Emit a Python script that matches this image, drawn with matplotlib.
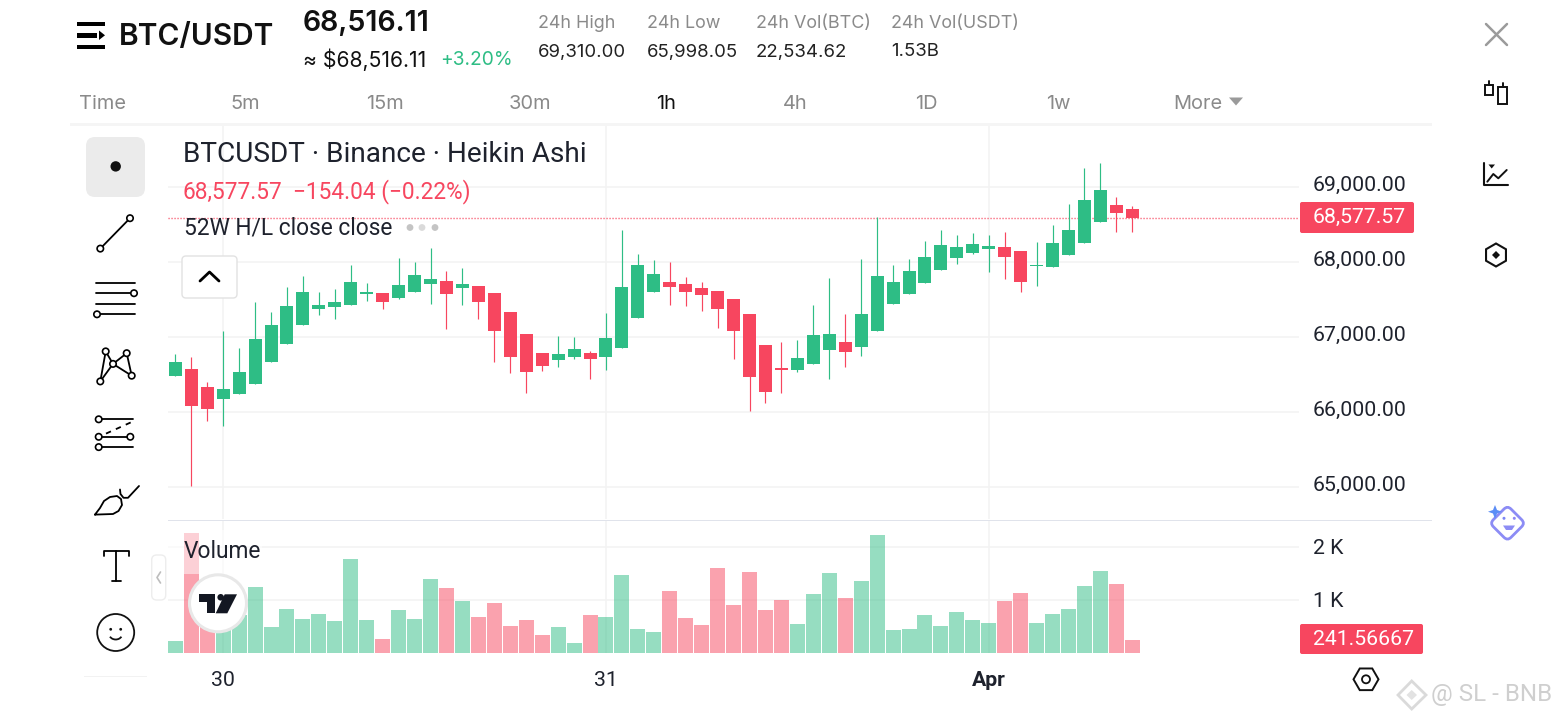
import matplotlib
matplotlib.use('Agg')
import numpy as np
from matplotlib import pyplot as plt
from matplotlib.patches import Circle, FancyBboxPatch, Polygon, Rectangle, RegularPolygon, Arc
from matplotlib.transforms import Affine2D, ScaledTranslation

# candle values
opens = [66476, 66569, 66329, 66169, 66236, 66369, 66663, 66903, 67156, 67369,
         67396, 67423, 67569, 67583, 67516, 67596, 67703, 67742, 67649, 67676,
         67583, 67329, 67036, 66783, 66689, 66729, 66783, 66729, 66849, 67249,
         67596, 67729, 67703, 67649, 67609, 67503, 67303, 66889, 66583, 66556,
         66636, 66823, 66929, 66863, 67076, 67436, 67569, 67716, 67889, 68049,
         68116, 68169, 68196, 68142, 67942, 67929, 68089, 68249, 68529, 68756, 68702]
closes = [66663, 66076, 66036, 66303, 66529, 66969, 67156, 67409, 67596, 67423,
          67463, 67729, 67596, 67463, 67689, 67822, 67769, 67569, 67703, 67463,
          67076, 66729, 66529, 66609, 66769, 66836, 66703, 66983, 67663, 67956,
          67836, 67663, 67596, 67556, 67369, 67076, 66463, 66263, 66556, 66716,
          67023, 67036, 66796, 67303, 67809, 67729, 67876, 68062, 68222, 68196,
          68236, 68209, 68062, 67729, 67956, 68249, 68422, 68822, 68956, 68649, 68577.57]
highs = [66769, 66729, 66396, 67076, 66849, 67463, 67329, 67663, 67809, 67596,
         67636, 67956, 67716, 67583, 68049, 67996, 68182, 67876, 67916, 67676,
         67583, 67329, 67036, 66783, 67009, 66996, 66809, 67316, 68422, 68102,
         68022, 67996, 67796, 67729, 67609, 67503, 67303, 66889, 66929, 66956,
         67423, 67783, 67303, 68036, 68591, 67956, 68036, 68276, 68422, 68356,
         68382, 68356, 68396, 68142, 68262, 68489, 68769, 69249, 69316, 68862, 68742]
lows = [66476, 65014, 65876, 65809, 66236, 66369, 66663, 66903, 67156, 67289,
        67236, 67423, 67476, 67369, 67503, 67596, 67436, 67103, 67423, 67236,
        66663, 66516, 66249, 66543, 66596, 66703, 66436, 66556, 66849, 67249,
        67596, 67423, 67409, 67343, 67116, 66703, 66009, 66116, 66249, 66529,
        66636, 66436, 66596, 66743, 67076, 67436, 67569, 67716, 67889, 67969,
        68102, 67862, 67769, 67596, 67676, 67929, 68089, 68249, 68529, 68396, 68396]
volumes = [228, 2262, 900, 660, 710, 1255, 494, 836, 646, 741,
           608, 1768, 627, 266, 817, 646, 1407, 1236, 989, 684,
           951, 513, 627, 342, 494, 190, 722, 684, 1483, 456,
           399, 1179, 665, 532, 1616, 913, 1540, 817, 1008, 551,
           1122, 1521, 1046, 1369, 2224, 437, 456, 722, 513, 779,
           627, 570, 989, 1141, 570, 741, 836, 1274, 1559, 1312, 241.56667]

price_ticks = [65000, 66000, 67000, 68000, 69000]
volume_ticks = [1000, 2000]
volume_tick_labels = ['1 K', '2 K']
date_ticks = [3, 27, 51]
date_labels = ['30', '31', 'Apr']
last_price = 68577.57

intervals = ['Time', '5m', '15m', '30m', '1h', '4h', '1D', '1w', 'More']
interval_x = [102, 245, 385, 530, 666, 795, 926, 1058, 1198]
stat_names = ['24h High', '24h Low', '24h Vol(BTC)', '24h Vol(USDT)']
stat_values = ['69,310.00', '65,998.05', '22,534.62', '1.53B']
stat_x = [538, 647, 756, 891]

GREEN = '#2EBD85'
RED = '#F7465F'
GRID = '#F3F3F3'
INK = '#1E222D'
GRAY = '#8A8A8A'
CHART_FONT = ['Roboto', 'DejaVu Sans']
UI_FONT = ['Inter', 'DejaVu Sans']

W, H = 1560, 720
fig = plt.figure(figsize=(W / 100, H / 100), dpi=100, facecolor='white')

def axes_px(left, top, right, bottom, **kw):
    return fig.add_axes([left / W, 1 - bottom / H, (right - left) / W, (bottom - top) / H], **kw)

x = np.arange(len(opens))
colors = [GREEN if c >= o else RED for o, c in zip(opens, closes)]
body_low = np.minimum(opens, closes)
body_h = np.abs(np.array(closes) - np.array(opens))

# price pane
ax = axes_px(168, 126, 1299, 519)
ax.set_facecolor('none')
ax.vlines(x, lows, highs, colors=colors, lw=0.85, zorder=3)
ax.bar(x, body_h, bottom=body_low, width=0.815, color=colors, zorder=4)
ax.axhline(last_price, color=RED, lw=1.0, ls=(0, (0.8, 1.36)), zorder=2)
ax.set_xlim(-0.458, 70.45)
ax.set_ylim(64569, 69809)
ax.set_yticks(price_ticks)
ax.set_yticklabels([f'{p:,.2f}' for p in price_ticks], fontsize=15.3, color=INK, family=CHART_FONT)
ax.set_xticks(date_ticks)
ax.tick_params(axis='x', length=0, labelbottom=False)
ax.tick_params(axis='y', length=0, pad=10, left=False, labelleft=False, right=False, labelright=True)
ax.grid(True, color=GRID, lw=1.1, zorder=0)
ax.set_axisbelow(True)
for s in ax.spines.values():
    s.set_visible(False)
for t in ax.get_yticklabels():
    t.set_transform(t.get_transform() + ScaledTranslation(0, 0.03, fig.dpi_scale_trans))

# volume pane
vax = axes_px(168, 521, 1299, 653)
vax.set_facecolor('none')
vax.bar(x, volumes, width=0.94, color=colors, alpha=0.5, linewidth=0, zorder=3)
vax.set_xlim(-0.458, 70.45)
vax.set_ylim(0, 2495)
vax.set_yticks(volume_ticks)
vax.set_yticklabels(volume_tick_labels, fontsize=15.3, color=INK, family=CHART_FONT)
vax.set_xticks(date_ticks)
vax.set_xticklabels(date_labels, fontsize=15.3, color=INK, family=CHART_FONT)
vax.get_xticklabels()[2].set_fontweight('bold')
vax.tick_params(axis='x', length=0, pad=13)
vax.tick_params(axis='y', length=0, pad=10, left=False, labelleft=False, right=False, labelright=True)
vax.grid(True, color=GRID, lw=1.1, zorder=0)
vax.set_axisbelow(True)
for s in vax.spines.values():
    s.set_visible(False)
for t in vax.get_yticklabels():
    t.set_transform(t.get_transform() + ScaledTranslation(0, 0.01, fig.dpi_scale_trans))

# everything around the chart goes on a pixel overlay
ov = fig.add_axes([0, 0, 1, 1], zorder=5)
ov.set_xlim(0, W)
ov.set_ylim(H, 0)
ov.axis('off')
ov.patch.set_alpha(0)

def line(pts, color='black', lw=1.3, **kw):
    xs, ys = zip(*pts)
    ov.plot(xs, ys, color=color, lw=lw, solid_capstyle=kw.pop('cap', 'round'), **kw)

def ring(cx, cy, r=3.2, color='black', lw=1.2):
    ov.add_patch(Circle((cx, cy), r, fc='white', ec=color, lw=lw, zorder=6))

def box(x0, y0, x1, y1, fc, ec='none', r=3, lw=1, **kw):
    ov.add_patch(FancyBboxPatch((x0 + r, y0 + r), x1 - x0 - 2 * r, y1 - y0 - 2 * r,
                                boxstyle=f'round,pad={r},rounding_size={r}', fc=fc, ec=ec, lw=lw, **kw))

def label(px, py, s, size, color=INK, ha='left', weight='normal', family=UI_FONT):
    # text sits about 2px high with va=center
    ov.text(px, py + 2, s, fontsize=size, color=color, ha=ha, va='center', fontweight=weight, family=family)

# header
ov.add_patch(Rectangle((77, 21.5), 28, 4, fc='black'))
ov.add_patch(Rectangle((77, 32.8), 20, 5, fc='black'))
ov.add_patch(Polygon([(99, 30.5), (105, 35.3), (99, 40)], fc='black'))
ov.add_patch(Rectangle((77, 45), 28, 3.8, fc='black'))
label(119, 35.5, 'BTC/USDT', 21.5, '#111111', weight='semibold')
label(303, 22, '68,516.11', 20.5, '#111111', weight='semibold')
label(303, 58, '≈ $68,516.11', 15.2, '#111111')
label(440, 58, '+3.20%', 13.8, GREEN)
for sx, name, val in zip(stat_x, stat_names, stat_values):
    label(sx, 22, name, 12.9, GRAY)
    label(sx, 50, val, 13.4, '#222222')
for ix, name in zip(interval_x, intervals):
    label(ix, 102, name, 14.4, '#111111' if name == '1h' else GRAY, ha='center')
ov.add_patch(Polygon([(1229, 97.5), (1243, 97.5), (1236, 105.5)], fc='#9A9A9A'))
ov.add_patch(Rectangle((70, 123), 1362, 3, fc='#F5F5F5', zorder=1))
ov.add_patch(Rectangle((168, 519.5), 1264, 1.6, fc='#E0E3EB', zorder=1))

# legend texts
label(183, 152, 'BTCUSDT · Binance · Heikin Ashi', 20.2, INK, family=CHART_FONT)
label(183, 190, '68,577.57', 16.3, RED, family=CHART_FONT)
label(293, 190, '−154.04 (−0.22%)', 16.3, RED, family=CHART_FONT)
label(183.5, 225.5, '52W H/L close close', 16.4, INK, family=CHART_FONT)
for dx, dc in zip([410, 422, 435], ['#C4C4C4', '#DADADA', '#C4C4C4']):
    ov.add_patch(Circle((dx, 227.5), 3.4, fc=dc))
box(182, 256, 237, 298, 'white', '#E2E2E2', r=4)
line([(200, 281), (209.5, 272), (219, 281)], 'black', 2.0)
ov.add_patch(Rectangle((168, 530), 94, 44, fc='white', alpha=0.5, zorder=1))
label(183.5, 549, 'Volume', 16.4, INK, family=CHART_FONT)

# last price boxes
box(1300, 202, 1414, 233, RED, r=2)
label(1313, 215.5, '68,577.57', 15.3, 'white', family=CHART_FONT)
box(1300, 624, 1423, 654, RED, r=2)
label(1313, 637.5, '241.56667', 15.3, 'white', family=CHART_FONT)

# left toolbar
box(86, 137, 145, 197, '#EBEBEB', r=9)
ov.add_patch(Circle((115.7, 166.4), 5.2, fc='#111111'))
line([(130, 218.2), (100.3, 248.6)])
ring(130, 218.2), ring(100.3, 248.6)
line([(96, 282.5), (135, 282.5)]), line([(96, 293.2), (130, 293.2)])
line([(96, 303.9), (135, 303.9)]), line([(100, 314.3), (135, 314.3)])
ring(134, 293.2), ring(97, 314.3)
pa, pb, pc, pd, pe = (105.7, 351.4), (126.7, 353.2), (113, 363.9), (100.3, 381.4), (131.7, 375.7)
for p, q in [(pa, pd), (pa, pc), (pd, pc), (pc, pb), (pb, pe), (pc, pe)]:
    line([p, q])
for p in [pa, pb, pc, pd, pe]:
    ring(*p)
line([(101, 419.3), (133, 419.3)]), line([(101, 436.8), (127, 436.8)]), line([(101, 447.1), (133, 447.1)])
line([(106, 433.6), (131.7, 422)], ls=(0, (3, 3)))
ring(98.7, 419.3), ring(98.7, 436.8), ring(130.3, 436.8), ring(98.7, 447.1)
# brush
line([(95, 514.6), (100, 508), (104, 501), (110, 497), (117, 496), (121, 499), (122, 505), (118.5, 511), (113, 514), (95, 514.6)])
line([(120, 489.5), (120.5, 494), (123.5, 497.8), (128, 497.8), (139, 486)])
line([(103.5, 556), (103.5, 551), (129, 551), (129, 556)])
line([(116.3, 551), (116.3, 580.7)]), line([(112, 580.7), (120.7, 580.7)])
ov.add_patch(Circle((115.7, 632.5), 18.5, fc='none', ec='#111111', lw=1.3))
ov.add_patch(Circle((110.7, 629.3), 1.4, fc='#111111')), ov.add_patch(Circle((120.7, 629.3), 1.4, fc='#111111'))
ov.add_patch(Arc((115.7, 634), 13, 11, theta1=25, theta2=155, color='#111111', lw=1.3))
ov.add_patch(Rectangle((84, 676), 63, 1.2, fc='#F2F2F2'))
box(151.7, 555, 165.7, 600, 'white', '#EDEDED', r=5)
line([(160.5, 572), (157, 577.5), (160.5, 583)], '#BDBDBD', 1.2)

# tradingview badge
ov.add_patch(Circle((218, 603.3), 28.5, fc='white', ec='#E8E8E8', lw=2.2, zorder=3))
ov.add_patch(Polygon([(199.3, 594.3), (214.7, 594.3), (214.7, 613.3), (207.3, 613.3), (207.3, 602.3), (199.3, 602.3)], fc='#131722', zorder=4))
ov.add_patch(Circle((220.7, 597.3), 3.3, fc='#131722', zorder=4))
ov.add_patch(Polygon([(224.7, 594.3), (237, 594.3), (227.3, 613.3), (215.7, 613.3)], fc='#131722', zorder=4))

# right icons
line([(1486, 24), (1507, 45)], '#9B9B9B', 1.8), line([(1507, 24), (1486, 45)], '#9B9B9B', 1.8)
ov.add_patch(Rectangle((1485, 85), 8.3, 9.5, fc='none', ec='#111111', lw=1.4))
ov.add_patch(Rectangle((1498.3, 87), 8.4, 16.5, fc='none', ec='#111111', lw=1.4))
line([(1489.2, 81), (1489.2, 85)], '#111111', 1.4), line([(1502.5, 83), (1502.5, 87)], '#111111', 1.4)
line([(1484.3, 162.5), (1484.3, 185), (1507.7, 185)], '#111111', 1.5)
ov.add_patch(Polygon([(1488.5, 164.5), (1495, 164.5), (1491.7, 168.5)], fc='#111111'))
line([(1487.3, 181.7), (1493.3, 174), (1498.3, 178.3), (1506.7, 170)], '#111111', 1.4)
ov.add_patch(RegularPolygon((1496, 255), 6, radius=11.5, fc='none', ec='#111111', lw=1.5))
ov.add_patch(Polygon([(1496, 251), (1500, 255), (1496, 259), (1492, 255)], fc='#111111'))
ov.add_patch(RegularPolygon((1366, 679.3), 6, radius=12.5, orientation=np.pi / 6, fc='none', ec='#111111', lw=1.4))
ov.add_patch(Circle((1366, 679.3), 4, fc='none', ec='#111111', lw=1.3))
ov.add_patch(FancyBboxPatch((1495, 510.7), 25, 25, boxstyle='round,pad=0,rounding_size=5', fc='white', ec='#8C8CF5', lw=2,
                            transform=Affine2D().rotate_deg_around(1507.5, 523.2, 45) + ov.transData))
ov.add_patch(Polygon([(1495, 505), (1497, 510), (1502, 511.7), (1497, 513.5), (1495, 519), (1493, 513.5), (1488, 511.7), (1493, 510)], fc='#5B8DF6', zorder=7))
ov.add_patch(Circle((1504, 518.3), 1.5, fc='#7B86F5')), ov.add_patch(Circle((1514.3, 518.3), 1.5, fc='#8C86F5'))
ov.add_patch(Polygon([(1503, 525.5), (1515, 525.5), (1512, 530), (1506, 530)], fc='#8C8CF5'))

# watermark
ov.add_patch(Polygon([(1411.7, 681), (1426, 695), (1411.7, 709), (1398, 695)], fc='none', ec='#DADADA', lw=2))
ov.add_patch(Polygon([(1411.7, 690), (1417, 695), (1411.7, 700), (1406.5, 695)], fc='#E2E2E2'))
label(1431, 692, '@ SL - BNB', 17.4, '#CFCFCF', family=CHART_FONT)

fig.savefig('out.png', dpi=100, facecolor='white')
